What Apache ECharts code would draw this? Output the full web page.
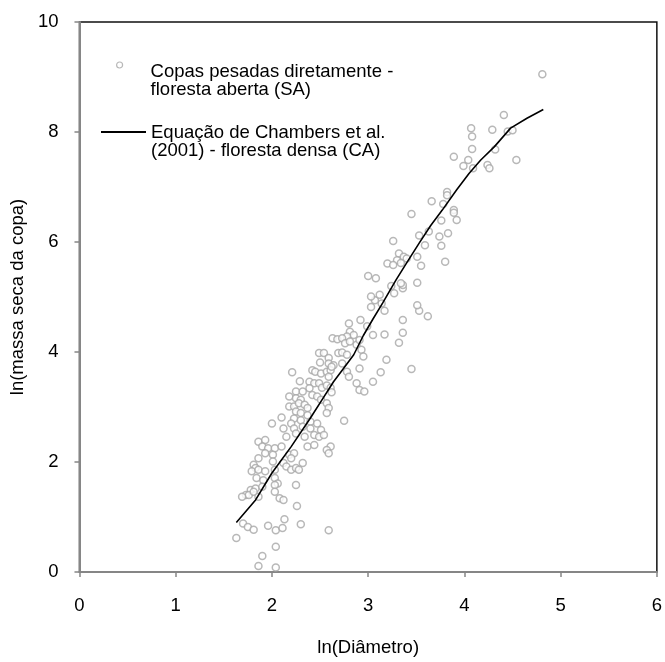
<!DOCTYPE html>
<html>
<head>
<meta charset="utf-8">
<script src="https://cdn.jsdelivr.net/npm/echarts@6/dist/echarts.min.js"></script>
<style>
html,body{margin:0;padding:0;background:#fff;}
#chart{width:665px;height:662px;}
</style>
</head>
<body>
<div id="chart"></div>
<script>
// ---- Data ----
const scatterName = 'Copas pesadas diretamente -\nfloresta aberta (SA)';
const lineName = 'Equação de Chambers et al.\n(2001) - floresta densa (CA)';
const xAxisTitle = 'ln(Diâmetro)';
const yAxisTitle = 'ln(massa seca da copa)';

// observed points: [ln(D), ln(crown mass)]
const lowPoints = [
  [1.63,0.62],[1.70,0.88],[1.75,0.82],[1.81,0.77],[1.96,0.84],[2.04,0.76],[2.11,0.80],
  [2.13,0.96],[2.30,0.87],[2.59,0.76],[2.26,1.20],[2.04,0.46],[1.90,0.29],[1.86,0.11],[2.04,0.08]
];
const densePoints = [
  [2.80,4.52],[2.92,4.58],[2.81,4.37],[2.85,4.31],[2.78,4.28],[2.63,4.25],[2.68,4.23],[2.73,4.25],
  [2.76,4.16],[2.81,4.19],[2.88,4.13],[2.91,4.22],[2.93,4.04],[2.49,3.98],[2.54,3.98],[2.69,3.98],
  [2.73,3.99],[2.78,3.95],[2.59,3.89],[2.50,3.81],[2.59,3.79],[2.64,3.76],[2.73,3.79],[2.42,3.67],
  [2.45,3.64],[2.51,3.61],[2.57,3.64],[2.61,3.67],[2.62,3.73],[2.59,3.55],[2.78,3.64],[2.80,3.55],
  [2.91,3.70],[2.21,3.63],[2.29,3.47],[2.39,3.46],[2.44,3.43],[2.39,3.34],[2.49,3.43],[2.52,3.35],
  [2.57,3.39],[2.61,3.35],[2.62,3.27],[2.88,3.43],[2.91,3.31],[2.25,3.28],[2.32,3.28],[2.18,3.19],
  [2.25,3.16],[2.30,3.13],[2.42,3.22],[2.47,3.19],[2.51,3.13],[2.18,3.01],[2.23,3.01],[2.28,3.07],
  [2.34,3.04],[2.37,2.98],[2.57,3.07],[2.59,2.98],[2.57,2.89],[2.25,2.92],[2.30,2.89],[2.37,2.85],
  [2.23,2.79],[2.10,2.81],[2.00,2.70],[2.20,2.70],[2.30,2.76],[2.40,2.73],[2.47,2.70],[2.75,2.75],
  [2.12,2.61],[2.23,2.61],[2.32,2.64],[2.40,2.61],[2.51,2.58],[2.44,2.49],[2.49,2.46],[2.54,2.49],
  [2.15,2.46],[2.25,2.52],[2.34,2.46],[1.86,2.37],[1.93,2.40],[2.37,2.28],[2.44,2.31],[1.90,2.28],
  [1.96,2.25],[2.03,2.25],[2.10,2.28],[2.61,2.28],[2.57,2.22],[2.59,2.16],[1.93,2.16],[2.01,2.13],
  [2.18,2.13],[2.23,2.16],[1.86,2.07],[2.01,2.01],[2.12,1.98],[2.20,2.07],[2.32,1.98],[1.81,1.95],
  [1.83,1.89],[1.79,1.83],[1.86,1.86],[1.93,1.83],[2.03,1.86],[2.15,1.92],[2.20,1.86],[2.25,1.89],
  [2.28,1.86],[1.84,1.71],[1.91,1.67],[2.03,1.71],[2.06,1.61],[1.78,1.49],[1.83,1.52],[1.90,1.55],
  [2.03,1.58],[2.03,1.46],[2.25,1.58],[1.73,1.40],[1.76,1.40],[1.81,1.46],[1.69,1.37],[1.86,1.37],
  [2.08,1.34],[2.12,1.31]
];
const midPoints = [
  [3.45,3.69],[3.19,3.86],[3.13,3.63],[3.05,3.46],[2.96,3.28],[3.05,4.31],[3.17,4.32],[3.32,4.17],
  [3.36,4.35],[3.36,4.58],[3.62,4.65],[3.53,4.75],[3.51,4.85],[3.17,4.75],[3.03,4.82],[3.14,4.88],
  [3.07,4.94],[3.03,5.01],[3.12,5.04],[3.27,5.07],[3.36,5.16],[3.36,5.22],[3.24,5.20],[3.51,5.26],
  [3.34,5.25],[2.99,4.47],[2.95,3.92]
];
const upperPoints = [
  [4.81,9.05],[4.41,8.31],[4.07,8.07],[4.29,8.04],[4.45,8.01],[4.50,8.03],[4.08,7.92],[4.08,7.69],
  [3.89,7.55],[4.04,7.49],[3.99,7.38],[4.09,7.34],[4.24,7.40],[4.26,7.34],[4.32,7.68],[4.54,7.49],
  [3.82,6.91],[3.82,6.85],[3.66,6.74],[3.78,6.69],[3.89,6.58],[3.89,6.53],[3.92,6.40],[3.76,6.39],
  [3.45,6.51],[3.83,6.16],[3.74,6.10],[3.76,5.93],[3.63,6.19],[3.53,6.12],[3.26,6.02],[3.59,5.94],
  [3.80,5.64],[3.51,5.73],[3.55,5.57],[3.32,5.79],[3.37,5.73],[3.30,5.67],[3.40,5.70],[3.20,5.61],
  [3.26,5.58],[3.34,5.62],[3.00,5.38],[3.08,5.34]
];

// Chambers et al. (2001) curve
const curveX = [1.63,1.83,2.00,2.20,2.40,2.52,2.64,2.73,2.85,2.95,3.05,3.15,3.29,3.40,3.53,3.65,3.77,3.92,4.05,4.17,4.31,4.48,4.65,4.82];
const curveY = [0.90,1.31,1.80,2.28,2.80,3.13,3.46,3.67,3.95,4.30,4.60,4.89,5.31,5.62,5.98,6.30,6.58,6.95,7.25,7.49,7.73,8.07,8.25,8.41];

const scatterData = lowPoints.concat(densePoints, midPoints, upperPoints);
const curveData = curveX.map((x, i) => [x, curveY[i]]);

const FONT = '"Liberation Sans", Arial, sans-serif';
const FS = 18.5;

// legend text: an empty first line of given height pushes the text below the icon
function legendText(name, gapKey) {
  return '{' + gapKey + '| }\n' + name.split('\n').map(s => '{t|' + s + '}').join('\n');
}
const legendRich = {
  t: {fontSize: FS, lineHeight: 18.6, color: '#000', fontFamily: FONT},
  g1: {fontSize: 4, lineHeight: 32},
  g2: {fontSize: 4, lineHeight: 20}
};

const chart = echarts.init(document.getElementById('chart'), null, {renderer: 'canvas'});
chart.setOption({
  animation: false,
  backgroundColor: '#fff',
  textStyle: {fontFamily: FONT, color: '#000'},
  grid: {left: 71, right: 6, top: 22, bottom: 90, show: true, borderColor: '#111', borderWidth: 1.5, backgroundColor: 'transparent'},
  xAxis: {
    type: 'value', min: 0, max: 6, interval: 1,
    name: xAxisTitle, nameLocation: 'middle', nameGap: 66,
    nameTextStyle: {fontSize: FS, color: '#000', fontFamily: FONT},
    axisLine: {show: true, onZero: false, lineStyle: {color: '#868686', width: 2}},
    axisTick: {show: true, inside: false, length: 5, lineStyle: {color: '#868686', width: 1.5}},
    axisLabel: {fontSize: FS, color: '#000', margin: 24, fontFamily: FONT},
    splitLine: {show: false}
  },
  yAxis: {
    type: 'value', min: 0, max: 10, interval: 2,
    name: yAxisTitle, nameLocation: 'middle', nameGap: 40,
    nameTextStyle: {fontSize: FS, color: '#000', fontFamily: FONT},
    axisLine: {show: true, onZero: false, lineStyle: {color: '#868686', width: 2}},
    axisTick: {show: true, inside: false, length: 5, lineStyle: {color: '#868686', width: 1.5}},
    axisLabel: {fontSize: FS, color: '#000', margin: 21, fontFamily: FONT},
    splitLine: {show: false}
  },
  legend: [
    {
      data: [{name: scatterName, icon: 'circle'}],
      left: 116, top: 44.4, padding: 0, itemWidth: 52, itemHeight: 6,
      selectedMode: false,
      itemStyle: {color: '#fff', borderColor: '#a6a6a6', borderWidth: 1.2},
      formatter: name => legendText(name, 'g1'),
      textStyle: {fontSize: FS, color: '#000', fontFamily: FONT, rich: legendRich}
    },
    {
      data: [lineName],
      left: 100, top: 111.4, padding: 0, itemWidth: 45, itemHeight: 14,
      selectedMode: false,
      itemStyle: {color: 'rgba(0,0,0,0)', borderColor: 'rgba(0,0,0,0)', borderWidth: 0},
      formatter: name => legendText(name, 'g2'),
      textStyle: {fontSize: FS, color: '#000', fontFamily: FONT, rich: legendRich}
    }
  ],
  series: [
    {
      name: scatterName, type: 'scatter', data: scatterData,
      symbol: 'circle', symbolSize: 7,
      itemStyle: {color: '#fff', borderColor: '#a6a6a6', borderWidth: 1.5},
      z: 2
    },
    {
      name: lineName, type: 'line', data: curveData,
      showSymbol: false, symbol: 'none',
      itemStyle: {color: '#000'},
      lineStyle: {color: '#000', width: 1.6},
      z: 3
    }
  ]
});
</script>
</body>
</html>
